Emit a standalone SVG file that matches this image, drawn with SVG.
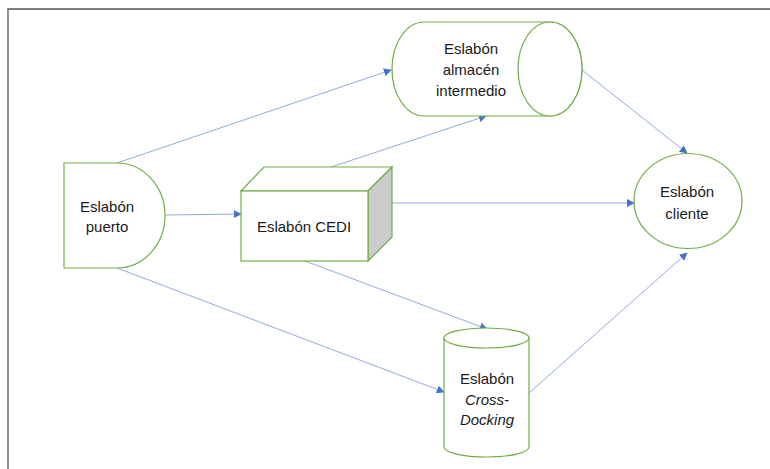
<svg xmlns="http://www.w3.org/2000/svg" width="770" height="469" viewBox="0 0 770 469">
  <style>
    .node { fill: #ffffff; stroke: #70ad47; stroke-width: 1.2; }
    .side { fill: #cccccc; stroke: #70ad47; stroke-width: 1.2; }
    .lbl { font-family: "Liberation Sans", Arial, sans-serif; font-size: 15px; fill: #1a1a1a; text-anchor: middle; }
    .it { font-style: italic; }
    .conn { fill: none; stroke: #4472c4; stroke-width: 0.8; stroke-opacity: 0.75; marker-end: url(#arrow); }
  </style>
  <defs>
    <marker id="arrow" viewBox="0 0 10 10" refX="9" refY="5" markerWidth="8" markerHeight="8" markerUnits="userSpaceOnUse" orient="auto">
      <path d="M0,0 L10,5 L0,10 z" fill="#4472c4"/>
    </marker>
  </defs>

  <rect width="770" height="469" fill="#ffffff"/>
  <!-- frame -->
  <path d="M8,469 L8,9 L770,9" fill="none" stroke="#555555" stroke-width="1.3"/>

  <g id="connectors">
    <line class="conn" x1="117" y1="163" x2="391" y2="70"/>
    <line class="conn" x1="328" y1="168" x2="486" y2="116"/>
    <line class="conn" x1="582" y1="70" x2="687" y2="153"/>
    <line class="conn" x1="165" y1="215" x2="241" y2="214"/>
    <line class="conn" x1="392" y1="203" x2="634" y2="203"/>
    <line class="conn" x1="305" y1="261" x2="487" y2="329"/>
    <line class="conn" x1="117" y1="268" x2="444" y2="392"/>
    <line class="conn" x1="529" y1="393" x2="687" y2="253"/>
  </g>

  <g id="almacen">
    <path class="node" d="M424,22 L550,22 A32,47 0 0 1 550,116 L424,116 A32,47 0 0 1 424,22 Z"/>
    <ellipse class="node" cx="550" cy="69" rx="32" ry="47"/>
    <text class="lbl" x="471" y="54">Eslabón</text>
    <text class="lbl" x="471" y="75">almacén</text>
    <text class="lbl" x="471" y="96">intermedio</text>
  </g>

  <g id="puerto">
    <path class="node" d="M64,163 L117,163 A48,52.5 0 0 1 117,268 L64,268 Z"/>
    <text class="lbl" x="107" y="212">Eslabón</text>
    <text class="lbl" x="107" y="232">puerto</text>
  </g>

  <g id="cedi">
    <path class="node" d="M241,191 L264,167 L392,167 L368,191 Z"/>
    <path class="side" d="M368,191 L392,167 L392,237 L368,261 Z"/>
    <rect class="node" x="241" y="191" width="127" height="70"/>
    <text class="lbl" x="304" y="232">Eslabón CEDI</text>
  </g>

  <g id="cliente">
    <ellipse class="node" cx="688" cy="201" rx="54" ry="47.5"/>
    <text class="lbl" x="687" y="197">Eslabón</text>
    <text class="lbl" x="687" y="219">cliente</text>
  </g>

  <g id="crossdocking">
    <path class="node" d="M444,338 L444,447 A42.5,10 0 0 0 529,447 L529,338"/>
    <ellipse class="node" cx="486.5" cy="338" rx="42.5" ry="10"/>
    <text class="lbl" x="487" y="384">Eslabón</text>
    <text class="lbl it" x="487" y="405">Cross-</text>
    <text class="lbl it" x="487" y="425">Docking</text>
  </g>
</svg>
